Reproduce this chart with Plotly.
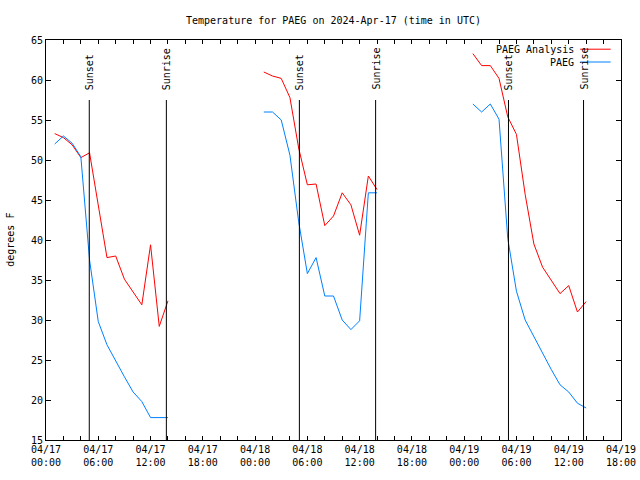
import plotly.graph_objects as go

# ---- data ----
day1_times = ["2024-04-17 %02d:00" % h for h in [1, 2, 3, 4, 5, 6, 7, 8, 9, 10, 11, 12, 13, 14]]
day2_times = ["2024-04-18 %02d:00" % h for h in [1, 2, 3, 4, 5, 6, 7, 8, 9, 10, 11, 12, 13, 14]]
day3_times = ["2024-04-19 %02d:00" % h for h in [1, 2, 3, 4, 5, 6, 7, 8, 9, 10, 11, 12, 13, 14]]

analysis_day1 = [53.3, 52.8, 51.9, 50.3, 50.9, 44.5, 37.8, 38.0, 35.1, 33.5, 31.9, 39.4, 29.2, 32.4]
analysis_day2 = [61.0, 60.5, 60.2, 57.8, 51.5, 46.9, 47.0, 41.8, 43.0, 45.9, 44.4, 40.6, 48.0, 46.3]
analysis_day3 = [63.3, 61.8, 61.8, 60.2, 55.4, 53.2, 45.7, 39.5, 36.6, 35.0, 33.3, 34.3, 31.0, 32.3]

obs_day1 = [52.0, 53.0, 52.1, 50.4, 37.5, 29.8, 26.9, 24.8, 22.9, 21.0, 19.8, 17.8, 17.8, 17.8]
obs_day2 = [56.0, 56.0, 55.0, 50.6, 42.3, 35.8, 37.8, 33.0, 33.0, 30.0, 28.8, 29.9, 45.9, 45.9]
obs_day3 = [57.0, 56.0, 57.0, 55.1, 40.2, 33.6, 30.0, 27.9, 25.8, 23.8, 21.9, 21.0, 19.6, 19.0]

sunsets = ["2024-04-17 04:58", "2024-04-18 05:05", "2024-04-19 05:05"]
sunrises = ["2024-04-17 13:49", "2024-04-18 13:50", "2024-04-19 13:42"]

series_names = ["PAEG Analysis", "PAEG"]
series_colors = ["#ff0000", "#0080ff"]

x_range = ["2024-04-17 00:00", "2024-04-19 18:00"]
y_range = [15, 65]

FONT = "DejaVu Sans Mono"

# ---- build ----
times = day1_times + [None] + day2_times + [None] + day3_times
analysis = analysis_day1 + [None] + analysis_day2 + [None] + analysis_day3
obs = obs_day1 + [None] + obs_day2 + [None] + obs_day3

fig = go.Figure()
fig.add_trace(go.Scatter(x=times, y=analysis, mode="lines", name=series_names[0],
                         line=dict(color=series_colors[0], width=1), connectgaps=False))
fig.add_trace(go.Scatter(x=times, y=obs, mode="lines", name=series_names[1],
                         line=dict(color=series_colors[1], width=1), connectgaps=False))

line_top = 0.85
label_y = 0.87
for t in sunsets:
    fig.add_shape(type="line", xref="x", yref="paper", x0=t, x1=t, y0=0, y1=line_top,
                  line=dict(color="black", width=1))
    fig.add_annotation(x=t, y=label_y, xref="x", yref="paper", text="Sunset", textangle=-90,
                       showarrow=False, xanchor="center", yanchor="bottom",
                       font=dict(family=FONT, size=10, color="black"))
for t in sunrises:
    fig.add_shape(type="line", xref="x", yref="paper", x0=t, x1=t, y0=0, y1=line_top,
                  line=dict(color="black", width=1))
    fig.add_annotation(x=t, y=label_y, xref="x", yref="paper", text="Sunrise", textangle=-90,
                       showarrow=False, xanchor="center", yanchor="bottom",
                       font=dict(family=FONT, size=10, color="black"))

# gnuplot-style legend (text then sample line)
leg_ys = [0.977, 0.945]
for name, color, ly in zip(series_names, series_colors, leg_ys):
    fig.add_annotation(x=0.921, y=ly, xref="paper", yref="paper", text=name, showarrow=False,
                       xanchor="right", yanchor="middle",
                       font=dict(family=FONT, size=10, color="black"))
    fig.add_shape(type="line", xref="paper", yref="paper", x0=0.929, x1=0.982, y0=ly, y1=ly,
                  line=dict(color=color, width=1))

fig.add_annotation(x=-0.063, y=0.5, xref="paper", yref="paper", text="degrees F", textangle=-90,
                   showarrow=False, xanchor="center", yanchor="middle",
                   font=dict(family=FONT, size=10, color="black"))

fig.update_layout(
    width=640, height=480,
    margin=dict(l=46, r=19, t=40, b=40, autoexpand=False),
    paper_bgcolor="white", plot_bgcolor="white",
    showlegend=False,
    title=dict(text="Temperature for PAEG on 2024-Apr-17 (time in UTC)", x=0.5, xref="paper",
               xanchor="center", y=0.958, yanchor="middle",
               font=dict(family=FONT, size=10, color="black")),
    font=dict(family=FONT, size=10, color="black"),
)
fig.update_xaxes(
    type="date", range=x_range, showgrid=False, zeroline=False, automargin=False,
    showline=True, linecolor="black", linewidth=1, mirror="ticks",
    ticks="inside", ticklen=4, tickcolor="black",
    dtick=6 * 3600 * 1000, tick0="2024-04-17 00:00", tickformat="%m/%d<br>%H:%M",
    minor=dict(dtick=2 * 3600 * 1000, ticks="inside", ticklen=4, tickcolor="black", showgrid=False),
    tickfont=dict(family=FONT, size=10, color="black"),
)
fig.update_yaxes(
    range=y_range, showgrid=False, zeroline=False, automargin=False,
    showline=True, linecolor="black", linewidth=1, mirror="ticks",
    ticks="inside", ticklen=5, tickcolor="black", dtick=5,
    tickfont=dict(family=FONT, size=10, color="black"),
)

# remove the default 8px page margin so the 640x480 figure fills the window exactly
fig.write_html("out.html",
               config={"displayModeBar": False, "staticPlot": True},
               post_script="document.body.style.margin='0';document.body.style.overflow='hidden';")
